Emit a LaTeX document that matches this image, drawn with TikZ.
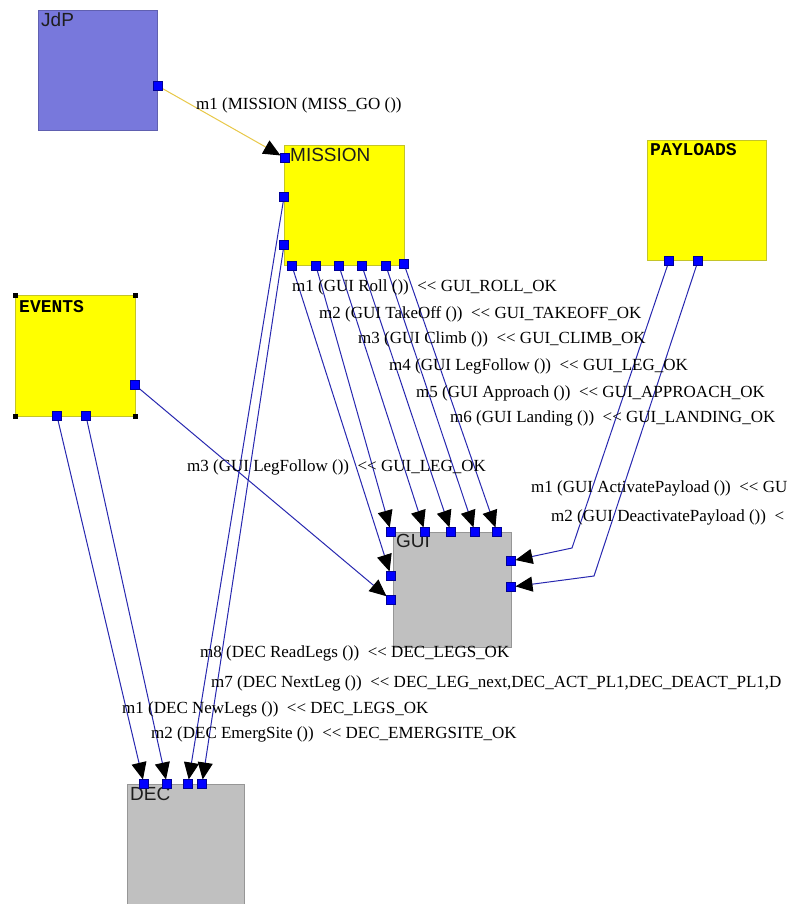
\documentclass[tikz,border=0pt]{standalone}
\usepackage{fontspec}
\setmainfont{Liberation Serif}
\newfontfamily\boxsans{Liberation Sans}
\newfontfamily\boxmono{Liberation Mono}
\usetikzlibrary{arrows.meta}
\pgfdeclarelayer{back}
\pgfdeclarelayer{mid}
\pgfsetlayers{back,mid,main}
\definecolor{jdpfill}{RGB}{120,120,220}
\definecolor{jdpedge}{RGB}{96,96,176}
\definecolor{yelfill}{RGB}{255,255,0}
\definecolor{yeledge}{RGB}{196,196,40}
\definecolor{grayfill}{RGB}{192,192,192}
\definecolor{grayedge}{RGB}{150,150,150}
\definecolor{portblue}{RGB}{0,0,255}
\definecolor{portedge}{RGB}{0,0,150}
\definecolor{connblue}{RGB}{40,40,176}
\definecolor{connyellow}{RGB}{232,200,72}
\definecolor{titlegray}{RGB}{30,30,30}
\begin{document}
\begin{tikzpicture}[x=1pt,y=-1pt,
  box/.style={line width=0.8pt, inner sep=0pt, outer sep=0pt, anchor=north west},
  port/.style={fill=portblue, draw=portedge, line width=0.5pt, minimum size=9pt, inner sep=0pt, outer sep=0pt},
  handle/.style={fill=black, minimum size=5pt, inner sep=0pt},
  conn/.style={draw=connblue, line width=1pt, -{Triangle[length=17pt,width=15pt,color=black]}},
  yconn/.style={draw=connyellow, line width=1pt, -{Triangle[length=17pt,width=15pt,color=black]}},
  lab/.style={font=\fontsize{17}{19}\selectfont, anchor=base west, inner sep=0pt},
  sanstitle/.style={font=\boxsans\fontsize{19}{21}\selectfont, text=titlegray, anchor=base west, inner sep=0pt},
  monotitle/.style={font=\boxmono\bfseries\fontsize{18}{20}\selectfont, anchor=base west, inner sep=0pt},
]
\useasboundingbox (0,0) rectangle (787,904);

% boxes
\begin{pgfonlayer}{back}
\fill[white] (0,0) rectangle (787,904);
\node[box, fill=jdpfill, draw=jdpedge, minimum width=119pt, minimum height=120pt] (jdp) at (38,10) {};
\node[box, fill=yelfill, draw=yeledge, minimum width=120pt, minimum height=120pt] (mission) at (284,145) {};
\node[box, fill=yelfill, draw=yeledge, minimum width=119pt, minimum height=120pt] (payloads) at (647,140) {};
\node[box, fill=yelfill, draw=yeledge, minimum width=120pt, minimum height=121pt] (events) at (15,295) {};
\node[box, fill=grayfill, draw=grayedge, minimum width=118pt, minimum height=115pt] (gui) at (393,532) {};
\node[box, fill=grayfill, draw=grayedge, minimum width=117pt, minimum height=130pt] (dec) at (127,784) {};
\end{pgfonlayer}

% titles
\node[sanstitle] (tjdp) at (41,27) {JdP};
\node[sanstitle] (tmission) at (290,162) {MISSION};
\node[sanstitle] (tgui) at (396,547) {GUI};
\node[sanstitle] (tdec) at (130,800) {DEC};
\node[monotitle] (tevents) at (19,312) {EVENTS};
\node[monotitle] (tpayloads) at (650,156) {PAYLOADS};

% selection handles on EVENTS
\node[handle] (h1) at (15,295) {};
\node[handle] (h2) at (135,295) {};
\node[handle] (h3) at (15,416) {};
\node[handle] (h4) at (135,416) {};

% ports
\node[port] (jp) at (158,86) {};
\node[port] (mi) at (285,158) {};
\node[port] (ml1) at (284,197) {};
\node[port] (ml2) at (284,245) {};
\node[port] (mb1) at (292,266) {};
\node[port] (mb2) at (316,266) {};
\node[port] (mb3) at (339,266) {};
\node[port] (mb4) at (362,266) {};
\node[port] (mb5) at (386,266) {};
\node[port] (mb6) at (404,264) {};
\node[port] (pb1) at (669,261) {};
\node[port] (pb2) at (698,261) {};
\node[port] (er) at (135,385) {};
\node[port] (eb1) at (57,416) {};
\node[port] (eb2) at (86,416) {};
\node[port] (gt1) at (391,532) {};
\node[port] (gt2) at (425,532) {};
\node[port] (gt3) at (451,532) {};
\node[port] (gt4) at (475,532) {};
\node[port] (gt5) at (497,532) {};
\node[port] (gl1) at (391,576) {};
\node[port] (gl2) at (391,600) {};
\node[port] (gr1) at (511,561) {};
\node[port] (gr2) at (511,587) {};
\node[port] (d1) at (144,784) {};
\node[port] (d2) at (167,784) {};
\node[port] (d3) at (188,784) {};
\node[port] (d4) at (202,784) {};

\coordinate (bend1) at (572,548);
\coordinate (bend2) at (594,576);

% connectors
\begin{pgfonlayer}{mid}
\draw[yconn] (jp) -- (mi);
\draw[conn] (mb1) -- (gl1);
\draw[conn] (mb2) -- (gt1);
\draw[conn] (mb3) -- (gt2);
\draw[conn] (mb4) -- (gt3);
\draw[conn] (mb5) -- (gt4);
\draw[conn] (mb6) -- (gt5);
\draw[conn] (pb1) -- (bend1) -- (gr1);
\draw[conn] (pb2) -- (bend2) -- (gr2);
\draw[conn] (er) -- (gl2);
\draw[conn] (eb1) -- (d1);
\draw[conn] (eb2) -- (d2);
\draw[conn] (ml1) -- (d3);
\draw[conn] (ml2) -- (d4);
\end{pgfonlayer}

% labels
\node[lab] (l0) at (196,110) {m1 (MISSION (MISS\_GO ())};
\node[lab] (l1) at (292,291) {m1 (GUI Roll ())\ \ <{}< GUI\_ROLL\_OK};
\node[lab] (l2) at (319,318) {m2 (GUI TakeOff ())\ \ <{}< GUI\_TAKEOFF\_OK};
\node[lab] (l3) at (358,343) {m3 (GUI Climb ())\ \ <{}< GUI\_CLIMB\_OK};
\node[lab] (l4) at (389,370) {m4 (GUI LegFollow ())\ \ <{}< GUI\_LEG\_OK};
\node[lab] (l5) at (416,397) {m5 (GUI Approach ())\ \ <{}< GUI\_APPROACH\_OK};
\node[lab] (l6) at (450,422) {m6 (GUI Landing ())\ \ <{}< GUI\_LANDING\_OK};
\node[lab] (l7) at (187,471) {m3 (GUI LegFollow ())\ \ <{}< GUI\_LEG\_OK};
\node[lab] (l8) at (531,492) {m1 (GUI ActivatePayload ())\ \ <{}< GU};
\node[lab] (l9) at (551,521) {m2 (GUI DeactivatePayload ())\ \ <};
\node[lab] (l10) at (200,657) {m8 (DEC ReadLegs ())\ \ <{}< DEC\_LEGS\_OK};
\node[lab] (l11) at (211,687) {m7 (DEC NextLeg ())\ \ <{}< DEC\_LEG\_next,DEC\_ACT\_PL1,DEC\_DEACT\_PL1,D};
\node[lab] (l12) at (122,713) {m1 (DEC NewLegs ())\ \ <{}< DEC\_LEGS\_OK};
\node[lab] (l13) at (151,738) {m2 (DEC EmergSite ())\ \ <{}< DEC\_EMERGSITE\_OK};
\end{tikzpicture}
\end{document}
